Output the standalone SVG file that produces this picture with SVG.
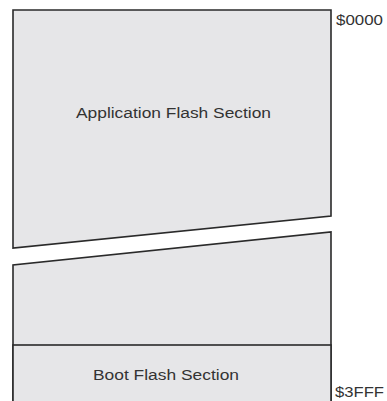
<svg xmlns="http://www.w3.org/2000/svg" width="387" height="401" viewBox="0 0 387 401">
<style>
.shape{fill:#e6e6e8;stroke:#2a2a2a;stroke-width:1.6;stroke-linejoin:miter}
.lbl{font-family:"Liberation Sans",Arial,sans-serif;font-size:14px;fill:#333}
</style>
<rect width="387" height="401" fill="#fff"/>
<g id="app-flash">
<polygon class="shape" points="13,10 331,10 331,216 13,248"/>
<text class="lbl" x="76" y="118" textLength="195" lengthAdjust="spacingAndGlyphs">Application Flash Section</text>
</g>
<g id="lower-app-flash">
<path class="shape" d="M13,402 L13,265 L331,232 L331,402"/>
</g>
<g id="boot-flash">
<rect x="13" y="345" width="318" height="60" class="shape"/>
<text class="lbl" x="93" y="380" textLength="146" lengthAdjust="spacingAndGlyphs">Boot Flash Section</text>
</g>
<g id="addr-start">
<text class="lbl" x="336" y="25" textLength="47" lengthAdjust="spacingAndGlyphs">$0000</text>
</g>
<g id="addr-end">
<text class="lbl" x="335" y="397" textLength="49" lengthAdjust="spacingAndGlyphs">$3FFF</text>
</g>
<g id="connectors"></g>
</svg>
